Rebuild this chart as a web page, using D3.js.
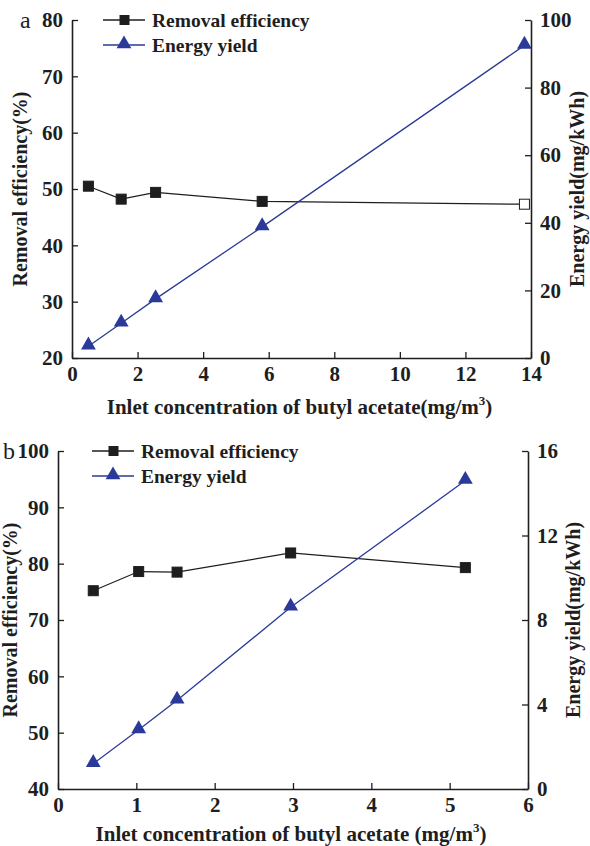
<!DOCTYPE html>
<html>
<head>
<meta charset="utf-8">
<script src="https://cdn.jsdelivr.net/npm/d3@7"></script>
<style>
  body { margin: 0; background: #fff; }
  svg text { font-family: "Liberation Serif", "Times New Roman", serif; font-weight: bold; }
</style>
</head>
<body>
<svg id="chart" width="590" height="846"></svg>
<script>
// panel a data
const concA = [0.5, 1.5, 2.55, 5.8, 13.8];
const removalA = [50.5, 48.2, 49.4, 47.8, 47.3];
const energyA = [3.5, 10.3, 17.5, 38.8, 92.5];
const xTicksA = [0, 2, 4, 6, 8, 10, 12, 14];
const leftTicksA = [20, 30, 40, 50, 60, 70, 80];
const rightTicksA = [0, 20, 40, 60, 80, 100];

// panel b data
const concB = [0.45, 1.03, 1.52, 2.97, 5.2];
const removalB = [75.2, 78.6, 78.5, 81.9, 79.3];
const energyB = [1.2, 2.8, 4.2, 8.6, 14.6];
const xTicksB = [0, 1, 2, 3, 4, 5, 6];
const leftTicksB = [40, 50, 60, 70, 80, 90, 100];
const rightTicksB = [0, 4, 8, 12, 16];

const svg = d3.select("#chart");
const blue = "#2b3a98";
const ink = "#1e1e1e";

function drawPanel(opt) {
  const g = svg.append("g");
  const x = d3.scaleLinear().domain(opt.xDomain).range([opt.left, opt.right]);
  const yL = d3.scaleLinear().domain(opt.lDomain).range([opt.bottom, opt.top]);
  const yR = d3.scaleLinear().domain(opt.rDomain).range([opt.bottom, opt.top]);

  // minor ticks: midpoints between majors
  const mids = t => t.slice(1).map((v, i) => (v + t[i]) / 2);

  function axis(gen, scale, ticks, transform, pad) {
    const ag = g.append("g").attr("transform", transform);
    ag.call(gen(scale).tickValues(mids(ticks)).tickSize(-3).tickFormat(""));
    ag.call(gen(scale).tickValues(ticks).tickSize(-6).tickSizeOuter(0)
      .tickPadding(pad).tickFormat(d3.format("d")));
    ag.selectAll("path").attr("stroke-width", 1.6).attr("stroke", ink);
    ag.selectAll("line").attr("stroke-width", 1.3).attr("stroke", ink);
    ag.selectAll("text").attr("font-size", 21).attr("fill", ink);
    return ag;
  }

  axis(d3.axisBottom, x, opt.xTicks, `translate(0,${opt.bottom})`, 8);
  axis(d3.axisLeft, yL, opt.lTicks, `translate(${opt.left},0)`, 9);
  axis(d3.axisRight, yR, opt.rTicks, `translate(${opt.right},0)`, 9);

  // removal line
  g.append("path")
    .datum(opt.conc.map((c, i) => [c, opt.removal[i]]))
    .attr("fill", "none").attr("stroke", ink).attr("stroke-width", 1.2)
    .attr("d", d3.line().x(d => x(d[0])).y(d => yL(d[1])));
  g.selectAll(".sq").data(opt.conc).join("rect")
    .attr("x", (d) => x(d) - 5)
    .attr("y", (d, i) => yL(opt.removal[i]) - 5)
    .attr("width", 10).attr("height", 10)
    .attr("fill", (d, i) => opt.openLast && i === opt.conc.length - 1 ? "#fff" : ink)
    .attr("stroke", ink).attr("stroke-width", 1);

  // energy line
  g.append("path")
    .datum(opt.conc.map((c, i) => [c, opt.energy[i]]))
    .attr("fill", "none").attr("stroke", blue).attr("stroke-width", 1.3)
    .attr("d", d3.line().x(d => x(d[0])).y(d => yR(d[1])));
  const tri = d3.symbol().type(d3.symbolTriangle).size(95);
  g.selectAll(".tri").data(opt.conc).join("path")
    .attr("transform", (d, i) => `translate(${x(d)},${yR(opt.energy[i]) - 1})`)
    .attr("d", tri).attr("fill", blue);

  // legend
  const lg = g.append("g");
  [["Removal efficiency", ink, "sq"], ["Energy yield", blue, "tri"]].forEach((e, i) => {
    const yy = opt.top + i * 25;
    lg.append("line").attr("x1", opt.legX).attr("x2", opt.legX + 42)
      .attr("y1", yy).attr("y2", yy).attr("stroke", e[1]).attr("stroke-width", 1.3);
    if (e[2] === "sq") {
      lg.append("rect").attr("x", opt.legX + 16.5).attr("y", yy - 5).attr("width", 10).attr("height", 10).attr("fill", e[1]);
    } else {
      lg.append("path").attr("transform", `translate(${opt.legX + 21},${yy - 1})`).attr("d", tri).attr("fill", e[1]);
    }
    lg.append("text").attr("x", opt.legX + 49).attr("y", yy).attr("dy", "0.35em")
      .attr("font-size", 19.5).attr("fill", ink).text(e[0]);
  });

  // panel letter
  g.append("text").attr("x", opt.letterX).attr("y", opt.top).attr("dy", "0.35em")
    .attr("font-size", 24).style("font-weight", "normal")
    .attr("fill", ink).text(opt.letter);

  // axis titles
  const xt = g.append("text").attr("x", (opt.left + opt.right) / 2 + opt.xTitleDx).attr("y", opt.xTitleY)
    .attr("text-anchor", "middle").attr("font-size", 21).attr("fill", ink);
  xt.append("tspan").text(opt.xTitle);
  xt.append("tspan").attr("font-size", 13).attr("dy", -9).text("3");
  xt.append("tspan").attr("dy", 9).text(")");

  g.append("text")
    .attr("transform", `translate(${opt.lTitleX},${(opt.top + opt.bottom) / 2}) rotate(-90)`)
    .attr("text-anchor", "middle").attr("font-size", 20).attr("fill", ink)
    .text("Removal efficiency(%)");
  g.append("text")
    .attr("transform", `translate(${opt.rTitleX},${(opt.top + opt.bottom) / 2}) rotate(-90)`)
    .attr("text-anchor", "middle").attr("font-size", 20).attr("fill", ink)
    .text("Energy yield(mg/kWh)");
}

drawPanel({
  left: 72, right: 531, top: 20, bottom: 358,
  xDomain: [0, 14], lDomain: [20, 80], rDomain: [0, 100],
  xTicks: xTicksA, lTicks: leftTicksA, rTicks: rightTicksA,
  conc: concA, removal: removalA, energy: energyA, openLast: true,
  legX: 103, letter: "a", letterX: 20,
  xTitle: "Inlet concentration of butyl acetate(mg/m", xTitleY: 414, xTitleDx: -2,
  lTitleX: 27, rTitleX: 584
});

drawPanel({
  left: 58, right: 528, top: 451, bottom: 789,
  xDomain: [0, 6], lDomain: [40, 100], rDomain: [0, 16],
  xTicks: xTicksB, lTicks: leftTicksB, rTicks: rightTicksB,
  conc: concB, removal: removalB, energy: energyB, openLast: false,
  legX: 92, letter: "b", letterX: 3,
  xTitle: "Inlet concentration of butyl acetate (mg/m", xTitleY: 841, xTitleDx: -2,
  lTitleX: 17, rTitleX: 580
});
</script>
</body>
</html>
